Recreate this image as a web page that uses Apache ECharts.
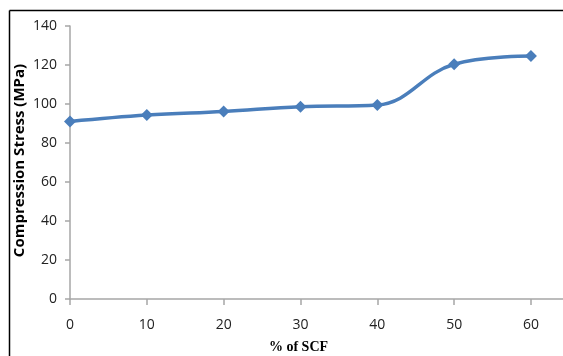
<!DOCTYPE html>
<html>
<head>
<meta charset="utf-8">
<script src="https://cdn.jsdelivr.net/npm/echarts@6/dist/echarts.min.js"></script>
<style>html,body{margin:0;padding:0;background:#fff}#c{width:563px;height:356px}</style>
</head>
<body>
<div id="c"></div>
<script>
const xValues = [0, 10, 20, 30, 40, 50, 60];
const stress = [91, 94.3, 96.2, 98.6, 99.5, 120.4, 124.6];
const xTicks = [0, 10, 20, 30, 40, 50, 60];
const yTicks = [0, 20, 40, 60, 80, 100, 120, 140];

const chart = echarts.init(document.getElementById('c'));
const axisColor = '#a6a6a6';
chart.setOption({
  animation: false,
  backgroundColor: '#fff',
  graphic: [
    { type: 'line', shape: { x1: 9.5, y1: 10.5, x2: 563, y2: 10.5 }, style: { stroke: '#000', lineWidth: 1.5 } },
    { type: 'line', shape: { x1: 9.5, y1: 10.5, x2: 9.5, y2: 356 }, style: { stroke: '#000', lineWidth: 1.5 } }
  ],
  grid: { left: 70, right: 0, top: 26, bottom: 57, containLabel: false, outerBoundsMode: 'none' },
  xAxis: {
    type: 'value', min: 0, max: 64.17, interval: 10,
    name: '% of SCF', nameLocation: 'middle', nameGap: 41,
    nameTextStyle: { fontFamily: 'Liberation Serif', fontWeight: 'bold', fontSize: 14, color: '#000', padding: [0, 0, 0, -36] },
    axisLine: { lineStyle: { color: axisColor, width: 1.5 } },
    axisTick: { customValues: xTicks, length: 6, lineStyle: { color: axisColor, width: 1.5 } },
    axisLabel: { customValues: xTicks, fontFamily: 'Open Sans', fontSize: 14, color: '#222', margin: 19 },
    splitLine: { show: false }
  },
  yAxis: {
    type: 'value', min: 0, max: 140, interval: 20,
    name: 'Compression Stress (MPa)', nameLocation: 'middle', nameGap: 43, nameMoveOverlap: false,
    nameTextStyle: { fontFamily: 'Open Sans', fontWeight: 'bold', fontSize: 15, color: '#000', padding: [0, 0, 0, 4] },
    axisLine: { show: true, lineStyle: { color: axisColor, width: 1.5 } },
    axisTick: { show: true, length: 5, lineStyle: { color: axisColor, width: 1.5 } },
    axisLabel: { customValues: yTicks, fontFamily: 'Open Sans', fontSize: 14, color: '#222', margin: 13 },
    splitLine: { show: false }
  },
  series: [{
    type: 'line',
    data: xValues.map((x, i) => [x, stress[i]]),
    smooth: 0.4,
    symbol: 'diamond', symbolSize: 12,
    lineStyle: { color: '#4a7ebb', width: 3.5 },
    itemStyle: { color: '#4a7ebb' }
  }]
});
</script>
</body>
</html>
